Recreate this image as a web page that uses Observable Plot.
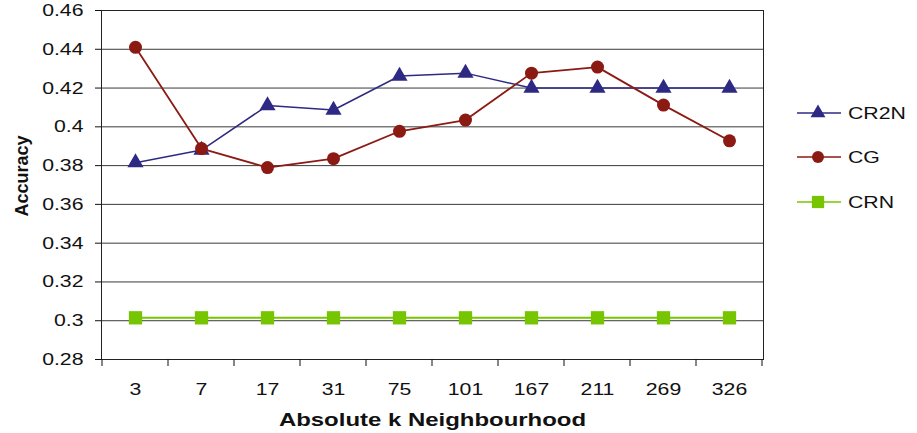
<!DOCTYPE html>
<html><head><meta charset="utf-8">
<script src="https://cdn.jsdelivr.net/npm/d3@7"></script>
<script src="https://cdn.jsdelivr.net/npm/@observablehq/plot@0.6"></script>
<style>body{margin:0;background:#fff;}#chart{position:relative;width:917px;height:433px;}</style>
</head><body><div id="chart"></div>
<script>
const categories = ["3","7","17","31","75","101","167","211","269","326"];
const cr2n = [0.3815,0.388,0.411,0.4087,0.4262,0.4277,0.42,0.42,0.42,0.42];
const cg   = [0.441,0.3888,0.379,0.3836,0.3977,0.4035,0.4277,0.4308,0.4112,0.3928];
const crn  = [0.3015,0.3015,0.3015,0.3015,0.3015,0.3015,0.3015,0.3015,0.3015,0.3015];
const yTicks = [0.28,0.30,0.32,0.34,0.36,0.38,0.40,0.42,0.44,0.46];
const seriesNames = ["CR2N","CG","CRN"];
const seriesValues = [cr2n, cg, crn];
const seriesColors = ["#2e2a84","#8b1a13","#77c500"];
const seriesSymbols = ["triangle","circle","square"];
const seriesR = [6, 6.5, 7.5];
const seriesWidth = [1.5, 1.8, 2];
const xTitle = "Absolute k Neighbourhood";
const yTitle = "Accuracy";

const series = seriesNames.map((name, i) => categories.map((k, j) => ({series: name, k, v: seriesValues[i][j]})));

const marks = [
  Plot.ruleY(yTicks, {stroke: "#3a3a3a", strokeWidth: 1}),
  Plot.frame({stroke: "#222"}),
  Plot.axisY({ticks: yTicks, tickSize: 6, tickPadding: 12, tickFormat: d => String(+d.toFixed(2)), label: null, stroke: "#111"}),
  Plot.axisX({tickSize: 0, tickPadding: 23, label: null}),
];
series.forEach((rows, i) => {
  marks.push(Plot.line(rows, {x: "k", y: "v", stroke: seriesColors[i], strokeWidth: seriesWidth[i]}));
});
series.forEach((rows, i) => {
  marks.push(Plot.dot(rows, {x: "k", y: "v", symbol: () => seriesSymbols[i], fill: seriesColors[i], r: seriesR[i], stroke: "none"}));
});
marks.push(Plot.text([xTitle], {frameAnchor: "bottom", dy: 66, text: d => d, fontWeight: "bold", fontSize: 18, fill: "#111", className: "xtitle"}));
marks.push(Plot.text([yTitle], {frameAnchor: "left", textAnchor: "middle", dx: -79, dy: -9, rotate: -90, text: d => d, fontWeight: "bold", fontSize: 18, fill: "#111"}));

const chart = Plot.plot({
  width: 917, height: 433,
  marginLeft: 101, marginRight: 154, marginTop: 10, marginBottom: 74,
  style: {fontFamily: "'Liberation Sans', Arial, sans-serif", fontSize: "17px", color: "#111", background: "#fff"},
  x: {type: "point", domain: categories, padding: 0.5, align: 0.5},
  y: {domain: [0.28, 0.46]},
  symbol: {type: "identity"},
  marks
});
document.getElementById("chart").appendChild(chart);

const svg = d3.select(chart);
// x tick marks at category boundaries (Excel style)
const xs = chart.scale("x");
const p0 = xs.apply(categories[0]), p1 = xs.apply(categories[1]);
const step = p1 - p0;
const yb = chart.scale("y").apply(0.28);
const bounds = categories.map(c => xs.apply(c) - step / 2).concat([xs.apply(categories[categories.length - 1]) + step / 2]);
svg.append("g").selectAll("line").data(bounds).join("line")
  .attr("x1", d => d).attr("x2", d => d).attr("y1", yb).attr("y2", yb + 7)
  .attr("stroke", "#111");

// legend
const lg = svg.append("g").attr("font-size", 17).attr("fill", "#111").attr("text-anchor", "start");
const legendY = [113, 157, 202];
seriesNames.forEach((name, i) => {
  const g = lg.append("g").attr("transform", `translate(0,${legendY[i]})`);
  g.append("line").attr("x1", 797).attr("x2", 841).attr("stroke", seriesColors[i]).attr("stroke-width", 1.5);
  const typ = {triangle: d3.symbolTriangle, circle: d3.symbolCircle, square: d3.symbolSquare}[seriesSymbols[i]];
  g.append("path").attr("transform", "translate(818,0)").attr("d", d3.symbol(typ, Math.PI * seriesR[i] * seriesR[i] * 0.85)()).attr("fill", seriesColors[i]);
  g.append("text").attr("x", 848).attr("dy", "0.35em").attr("text-anchor", "start").text(name);
});

// horizontal stretch of text as in the reference
svg.selectAll("text").each(function() {
  const t = d3.select(this);
  const tr = t.attr("transform") || "";
  if (tr.includes("rotate")) return;
  const len = this.getComputedTextLength();
  const isTitle = this.textContent === xTitle;
  if (len > 0) t.attr("textLength", len * (isTitle ? 1.33 : 1.25)).attr("lengthAdjust", "spacingAndGlyphs");
});
</script></body></html>
